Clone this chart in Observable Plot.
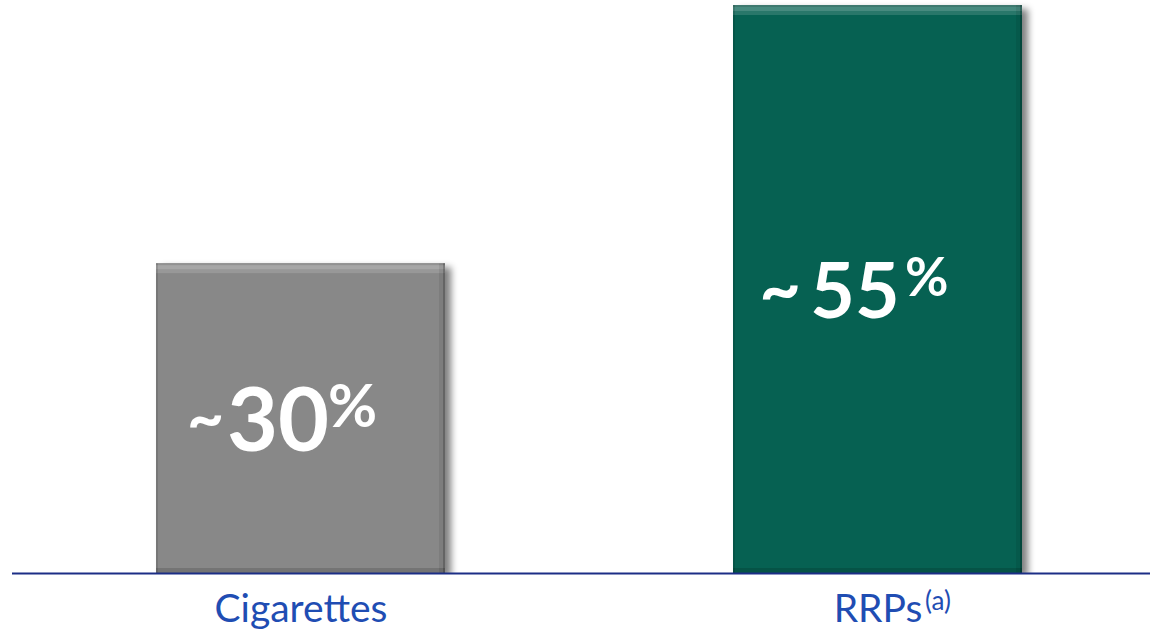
<!DOCTYPE html>
<html>
<head>
<meta charset="utf-8">
<script src="https://cdn.jsdelivr.net/npm/d3@7"></script>
<script src="https://cdn.jsdelivr.net/npm/@observablehq/plot@0.6"></script>
<style>
  html, body { margin: 0; padding: 0; background: #fff; }
  #chart svg { display: block; }
</style>
</head>
<body>
<div id="chart"></div>
<script>
// ---- data ----
const categories = ["Cigarettes", "RRPs"];
const values = [30, 55];
const valueLabels = ["30", "55"];
const footnotes = ["", "(a)"];

// ---- styles ----
const barColors = ["#888888", "#066152"];
const labelBlue = "#1f4db3";
const baseColor = "#1c2e86";

const data = categories.map((c, i) => ({category: c, value: values[i], label: valueLabels[i], note: footnotes[i], idx: i}));

const numSize = i => (i === 0 ? 88 : 77);
const pctSize = i => (i === 0 ? 60 : 53);
const tildeSize = i => (i === 0 ? 64 : 72);

const svg = Plot.plot({
  width: 1150,
  height: 631,
  marginTop: 5,
  marginBottom: 58,
  marginLeft: 12,
  marginRight: 0,
  style: {fontFamily: "Lato, 'Open Sans', sans-serif", background: "#fff"},
  x: {domain: categories, paddingInner: 0.5, paddingOuter: 0.235, align: 0.53, axis: null},
  y: {domain: [0, 55], axis: null},
  color: {domain: categories, range: barColors},
  marks: [
    Plot.barY(data, {x: "category", y: "value", fill: "category", inset: 0}),
    Plot.ruleY([0], {stroke: baseColor, strokeWidth: 2}),
    // tilde
    Plot.text(data, {x: "category", y: d => d.value / 2, text: () => "~", fill: "white", fontWeight: "bold", fontSize: d => tildeSize(d.idx), textAnchor: "end", dx: -77, dy: 1}),
    // number
    Plot.text(data, {x: "category", y: d => d.value / 2, text: "label", fill: "white", fontWeight: "bold", fontSize: d => numSize(d.idx), dx: -23, dy: 4}),
    // percent sign
    Plot.text(data, {x: "category", y: d => d.value / 2, text: () => "%", fill: "white", fontWeight: "bold", fontSize: d => pctSize(d.idx), textAnchor: "start", dx: 27, dy: -10.5}),
    // category labels
    Plot.text(data, {x: "category", frameAnchor: "bottom", lineAnchor: "middle", text: "category", fill: labelBlue, fontSize: 39, dy: 36.5}),
    // footnote superscripts
    Plot.text(data.filter(d => d.note), {x: "category", frameAnchor: "bottom", lineAnchor: "middle", text: "note", fill: labelBlue, fontSize: 26, textAnchor: "start", dx: 47, dy: 28})
  ]
});

const defs = `
<filter id="bevel" x="-3%" y="-3%" width="108%" height="103%" color-interpolation-filters="sRGB">
  <feGaussianBlur in="SourceAlpha" stdDeviation="3.5" result="blur"/>
  <feOffset in="blur" dx="6" dy="4" result="offBlur"/>
  <feComponentTransfer in="offBlur" result="shadow"><feFuncA type="linear" slope="0.5"/></feComponentTransfer>

  <feOffset in="SourceAlpha" dy="10" result="d1"/>
  <feComposite in="SourceAlpha" in2="d1" operator="out" result="top1"/>
  <feFlood flood-color="#ffffff" flood-opacity="0.14"/>
  <feComposite in2="top1" operator="in" result="topL1"/>
  <feOffset in="SourceAlpha" dy="6" result="d2"/>
  <feComposite in="SourceAlpha" in2="d2" operator="out" result="top2"/>
  <feFlood flood-color="#ffffff" flood-opacity="0.14"/>
  <feComposite in2="top2" operator="in" result="topL2"/>
  <feOffset in="SourceAlpha" dy="2" result="d3"/>
  <feComposite in="SourceAlpha" in2="d3" operator="out" result="top3"/>
  <feFlood flood-color="#000000" flood-opacity="0.12"/>
  <feComposite in2="top3" operator="in" result="topL3"/>

  <feOffset in="SourceAlpha" dx="2" result="lsh"/>
  <feComposite in="SourceAlpha" in2="lsh" operator="out" result="leftS"/>
  <feFlood flood-color="#000000" flood-opacity="0.12"/>
  <feComposite in2="leftS" operator="in" result="leftD"/>

  <feOffset in="SourceAlpha" dy="-5" result="bsh"/>
  <feComposite in="SourceAlpha" in2="bsh" operator="out" result="botS"/>
  <feFlood flood-color="#000000" flood-opacity="0.14"/>
  <feComposite in2="botS" operator="in" result="botD"/>

  <feOffset in="SourceAlpha" dx="-6" result="rsh"/>
  <feComposite in="SourceAlpha" in2="rsh" operator="out" result="rightS"/>
  <feFlood flood-color="#000000" flood-opacity="0.08"/>
  <feComposite in2="rightS" operator="in" result="rightD"/>
  <feOffset in="SourceAlpha" dx="-2" result="rsh2"/>
  <feComposite in="SourceAlpha" in2="rsh2" operator="out" result="rightS2"/>
  <feFlood flood-color="#000000" flood-opacity="0.2"/>
  <feComposite in2="rightS2" operator="in" result="rightD2"/>

  <feMerge>
    <feMergeNode in="shadow"/>
    <feMergeNode in="SourceGraphic"/>
    <feMergeNode in="topL1"/>
    <feMergeNode in="topL2"/>
    <feMergeNode in="topL3"/>
    <feMergeNode in="leftD"/>
    <feMergeNode in="botD"/>
    <feMergeNode in="rightD"/>
    <feMergeNode in="rightD2"/>
  </feMerge>
</filter>`;
const s = d3.select(svg);
s.insert("defs", ":first-child").html(defs);
s.select("g[aria-label='bar']").attr("filter", "url(#bevel)");

document.getElementById("chart").appendChild(svg);
</script>
</body>
</html>
